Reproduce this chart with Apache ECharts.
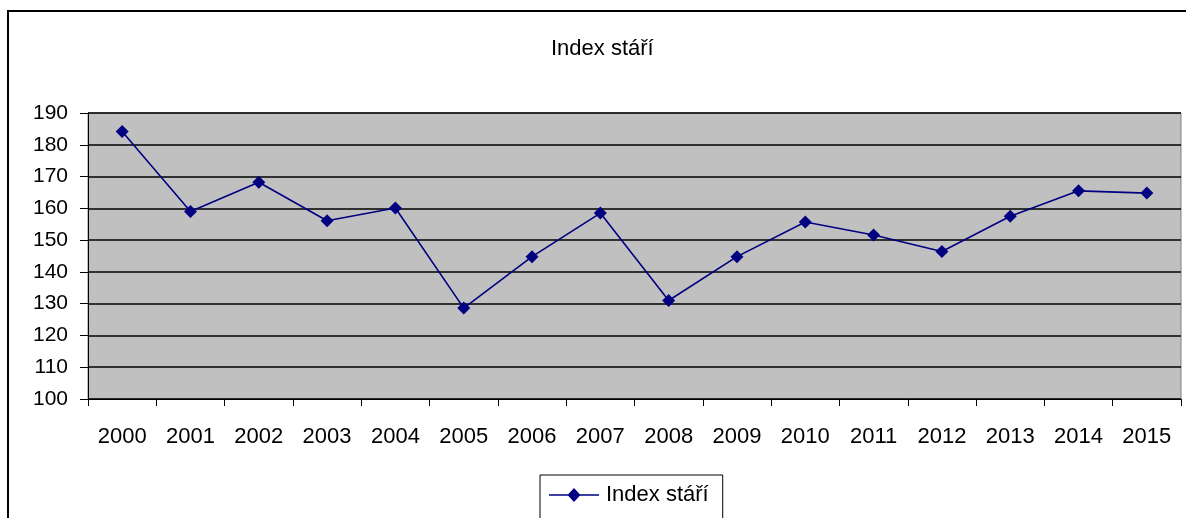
<!DOCTYPE html>
<html>
<head>
<meta charset="utf-8">
<script src="https://cdn.jsdelivr.net/npm/echarts@6/dist/echarts.min.js"></script>
<style>
html,body{margin:0;padding:0;background:#fff;}
#chart{width:1186px;height:518px;}
</style>
</head>
<body>
<div id="chart"></div>
<script>
const titleText = 'Index stáří';
const seriesName = 'Index stáří';
const years = ['2000','2001','2002','2003','2004','2005','2006','2007','2008','2009','2010','2011','2012','2013','2014','2015'];
const values = [184.2, 159.0, 168.2, 156.1, 160.1, 128.6, 144.8, 158.5, 131.0, 144.8, 155.7, 151.6, 146.4, 157.5, 165.5, 164.8];
const yMin = 100, yMax = 190, yStep = 10;

const font = '"Liberation Sans", Arial, sans-serif';
const chart = echarts.init(document.getElementById('chart'), null, {renderer: 'canvas'});
chart.setOption({
  animation: false,
  backgroundColor: '#ffffff',
  graphic: [{
    type: 'rect', z: 100, silent: true,
    shape: {x: 8, y: 11, width: 1300, height: 700},
    style: {fill: 'none', stroke: '#000', lineWidth: 2}
  }],
  title: {
    text: titleText,
    left: 546, top: 33,
    textStyle: {fontFamily: font, fontSize: 22, fontWeight: 'normal', color: '#000'}
  },
  legend: {
    left: 540, top: 475,
    padding: [9, 14, 30, 9],
    borderColor: '#000', borderWidth: 1,
    itemWidth: 50, itemHeight: 14, itemGap: 10,
    textStyle: {fontFamily: font, fontSize: 22, color: '#000', padding: [0,0,0,2]},
    data: [{name: seriesName, icon: 'path://M0,6.3L50,6.3L50,7.7L0,7.7Z M25,0L31.5,7L25,14L18.5,7Z'}]
  },
  grid: {
    left: 88, right: 5, top: 113, bottom: 119,
    show: true, backgroundColor: '#C0C0C0', borderColor: '#808080', borderWidth: 1
  },
  xAxis: {
    type: 'category', data: years, boundaryGap: true,
    axisLine: {lineStyle: {color: '#000', width: 1}},
    axisTick: {show: true, length: 7, inside: false, alignWithLabel: false, lineStyle: {color: '#000'}},
    axisLabel: {fontFamily: font, fontSize: 22, color: '#000', margin: 27},
    splitLine: {show: false}
  },
  yAxis: {
    type: 'value', min: yMin, max: yMax, interval: yStep,
    axisLine: {show: true, lineStyle: {color: '#000', width: 1}},
    axisTick: {show: true, length: 8, lineStyle: {color: '#000'}},
    axisLabel: {fontFamily: font, fontSize: 21, color: '#000', margin: 20},
    splitLine: {show: true, lineStyle: {color: '#000', width: 1.5}}
  },
  series: [{
    name: seriesName, type: 'line', data: values,
    symbol: 'diamond', symbolSize: 13,
    lineStyle: {color: '#000080', width: 1.6},
    itemStyle: {color: '#000080'}
  }]
});
</script>
</body>
</html>
